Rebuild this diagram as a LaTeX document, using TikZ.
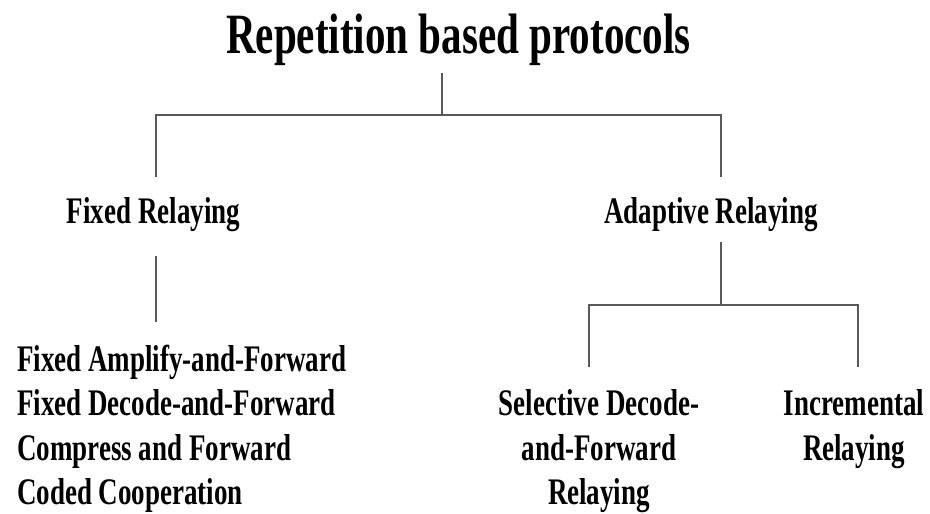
\documentclass[tikz,border=0pt]{standalone}
\usepackage{fontspec}
\setmainfont{Liberation Serif}[FakeStretch=0.72]
\tikzset{
  heading/.style={font=\bfseries\fontsize{57}{62}\selectfont, inner sep=0pt, anchor=base},
  kind/.style={font=\bfseries\fontsize{37.5}{44.5}\selectfont, inner sep=0pt, anchor=base},
  item/.style={kind, anchor=base west},
  branch/.style={line width=1.6pt, color=black!65}
}

\begin{document}
\begin{tikzpicture}[x=1pt,y=-1pt]
    \fill[white] (0,0) rectangle (930,514);
    \useasboundingbox (0,0) rectangle (930,514);

    \node[heading] (title) at (458.5,53) {Repetition based protocols};

    \node[kind] (fixed) at (153.5,223) {Fixed Relaying};
    \node[kind] (adaptive) at (711,223) {Adaptive Relaying};

    % fixed relaying schemes
    \foreach \t [count=\i] in {Fixed Amplify-and-Forward, Fixed Decode-and-Forward,
                              Compress and Forward, Coded Cooperation}
      \node[item] (fix\i) at (17,326.5+44.5*\i) {\t};

    % adaptive relaying schemes
    \node[kind] (sel1) at (599,415.5) {Selective Decode-};
    \node[kind] (sel2) at (599,460) {and-Forward};
    \node[kind] (sel3) at (599,504) {Relaying};
    \node[kind] (inc1) at (854,415.5) {Incremental};
    \node[kind] (inc2) at (854,460) {Relaying};

    \coordinate (root) at (442,73);
    \coordinate (split) at (442,115);
    \coordinate (fixedtop) at (156,177);
    \coordinate (adapttop) at (721,177);
    \coordinate (fixedbot) at (156,256);
    \coordinate (fixedend) at (156,322);
    \coordinate (adaptbot) at (721,242);
    \coordinate (split2) at (721,305);
    \coordinate (seltop) at (589,367);
    \coordinate (inctop) at (858,367);

    \draw[branch] (root) -- (split);
    \draw[branch] (fixedtop) |- (split) -| (adapttop);
    \draw[branch] (fixedbot) -- (fixedend);
    \draw[branch] (adaptbot) -- (split2);
    \draw[branch] (seltop) |- (split2) -| (inctop);
\end{tikzpicture}
\end{document}
